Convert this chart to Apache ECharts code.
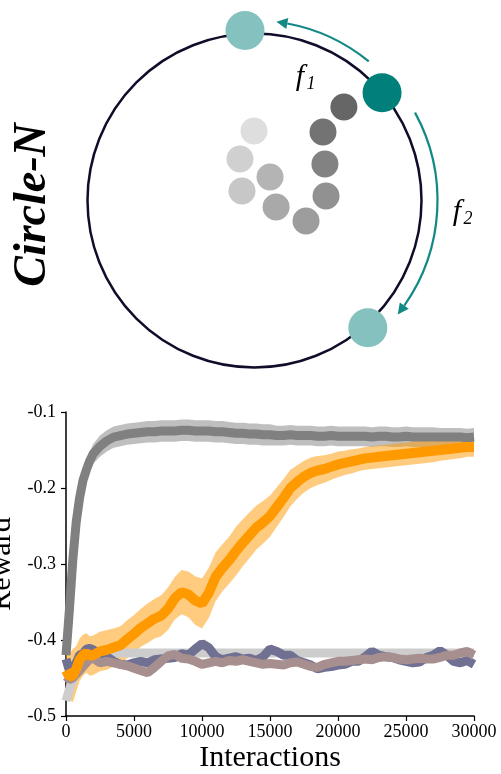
<!DOCTYPE html>
<html><head><meta charset="utf-8">
<style>html,body{margin:0;padding:0;background:#fff}#c{width:501px;height:774px}</style>
<script src="https://cdn.jsdelivr.net/npm/echarts/dist/echarts.min.js"></script>
</head><body><div id="c"></div><script>
// ---------- data ----------
const interactions = [0,250,500,750,1000,1250,1500,1750,2000,
  2500,3000,3500,4000,4500,5000,5500,6000,6500,7000,7500,8000,8500,9000,9500,
  10000,10500,11000,11500,12000,12500,13000,13500,14000,14500,15000,15500,16000,16500,17000,17500,
  18000,18500,19000,19500,20000,20500,21000,21500,22000,22500,23000,23500,24000,24500,25000,25500,
  26000,26500,27000,27500,28000,28500,29000,29500,30000];
const grayMean = [-0.42,-0.36,-0.295,-0.245,-0.213,-0.19,-0.176,-0.164,-0.155,
  -0.145,-0.138,-0.133,-0.131,-0.129,
  -0.128,-0.127,-0.126,-0.126,-0.125,
  -0.125,-0.125,-0.124,-0.124,-0.125,
  -0.125,-0.125,-0.126,-0.126,-0.127,
  -0.128,-0.128,-0.129,-0.129,-0.130,
  -0.130,-0.131,-0.131,-0.130,-0.131,
  -0.131,-0.131,-0.132,-0.132,-0.131,
  -0.132,-0.132,-0.132,-0.132,-0.132,
  -0.133,-0.132,-0.132,-0.133,-0.133,
  -0.132,-0.133,-0.133,-0.133,-0.133,
  -0.133,-0.133,-0.133,-0.133,-0.134,
  -0.133];
const grayStd = [0.008,0.01,0.01,0.01,0.01,0.011,0.012,0.012,0.013,
  0.014,0.014,0.014,0.014,0.014,
  0.014,0.014,0.014,0.014,0.014,
  0.014,0.014,0.014,0.014,0.014,
  0.014,0.014,0.014,0.014,0.014,
  0.014,0.014,0.014,0.014,0.014,
  0.014,0.013,0.013,0.013,0.013,
  0.013,0.013,0.013,0.013,0.013,
  0.013,0.013,0.013,0.013,0.013,
  0.013,0.013,0.013,0.013,0.013,
  0.013,0.013,0.013,0.013,0.013,
  0.012,0.012,0.012,0.012,0.012,
  0.012];
const orangeMean = [-0.44,-0.448,-0.447,-0.438,-0.426,-0.42,-0.417,-0.421,-0.42,
  -0.415,-0.413,-0.41,-0.407,-0.399,
  -0.392,-0.384,-0.378,-0.372,-0.368,
  -0.359,-0.345,-0.337,-0.34,-0.348,
  -0.352,-0.338,-0.317,-0.305,-0.295,
  -0.283,-0.272,-0.262,-0.252,-0.245,
  -0.237,-0.225,-0.213,-0.2,-0.192,
  -0.185,-0.18,-0.177,-0.175,-0.172,
  -0.169,-0.167,-0.165,-0.163,-0.161,
  -0.16,-0.159,-0.158,-0.157,-0.156,
  -0.155,-0.154,-0.153,-0.152,-0.151,
  -0.15,-0.149,-0.148,-0.147,-0.146,
  -0.146];
const orangeStd = [0.02,0.03,0.035,0.03,0.028,0.027,0.026,0.026,0.026,
  0.026,0.026,0.025,0.025,0.025,
  0.025,0.025,0.026,0.026,0.027,
  0.028,0.028,0.029,0.03,0.032,
  0.033,0.033,0.032,0.031,0.031,
  0.032,0.031,0.03,0.029,0.028,
  0.027,0.026,0.025,0.024,0.022,
  0.021,0.02,0.019,0.018,0.017,
  0.017,0.016,0.016,0.015,0.015,
  0.015,0.015,0.015,0.015,0.015,
  0.015,0.015,0.015,0.015,0.015,
  0.014,0.014,0.014,0.014,0.013,
  0.013];
const lightGrayMean = [-0.48,-0.465,-0.452,-0.443,-0.436,-0.43,-0.425,-0.421,-0.419,
  -0.418,-0.418,-0.417,-0.417,-0.417,
  -0.417,-0.417,-0.417,-0.417,-0.417,
  -0.417,-0.417,-0.417,-0.417,-0.417,
  -0.417,-0.417,-0.417,-0.417,-0.417,
  -0.417,-0.417,-0.417,-0.417,-0.417,
  -0.417,-0.417,-0.417,-0.417,-0.417,
  -0.417,-0.417,-0.417,-0.417,-0.417,
  -0.417,-0.417,-0.417,-0.417,-0.417,
  -0.417,-0.417,-0.417,-0.417,-0.417,
  -0.417,-0.417,-0.417,-0.417,-0.417,
  -0.417,-0.417,-0.417,-0.417,-0.417,
  -0.417];
const slateMean = [-0.425,-0.44,-0.445,-0.43,-0.42,-0.418,-0.412,-0.411,-0.413,
  -0.418,-0.422,-0.428,-0.432,-0.433,
  -0.43,-0.428,-0.43,-0.426,-0.425,
  -0.424,-0.423,-0.418,-0.42,-0.412,
  -0.405,-0.41,-0.422,-0.426,-0.424,
  -0.422,-0.425,-0.424,-0.427,-0.422,
  -0.412,-0.415,-0.42,-0.42,-0.427,
  -0.43,-0.433,-0.438,-0.436,-0.435,
  -0.433,-0.432,-0.428,-0.428,-0.422,
  -0.415,-0.42,-0.422,-0.423,-0.426,
  -0.428,-0.43,-0.429,-0.423,-0.42,
  -0.414,-0.42,-0.428,-0.43,-0.427,
  -0.432];
const mauveMean = [-0.448,-0.452,-0.45,-0.445,-0.44,-0.435,-0.43,-0.425,-0.424,
  -0.43,-0.428,-0.43,-0.432,-0.434,
  -0.437,-0.44,-0.443,-0.436,-0.428,
  -0.421,-0.419,-0.424,-0.425,-0.428,
  -0.432,-0.43,-0.428,-0.43,-0.427,
  -0.428,-0.426,-0.428,-0.43,-0.432,
  -0.431,-0.432,-0.433,-0.43,-0.429,
  -0.432,-0.435,-0.436,-0.432,-0.43,
  -0.428,-0.428,-0.427,-0.426,-0.425,
  -0.426,-0.423,-0.422,-0.423,-0.425,
  -0.426,-0.425,-0.424,-0.425,-0.425,
  -0.423,-0.42,-0.42,-0.417,-0.415,
  -0.42];
const yTickLabels = ['-0.5','-0.4','-0.3','-0.2','-0.1'];
const xTickLabels = ['0','5000','10000','15000','20000','25000','30000'];

// diagram: [radius as fraction of circle radius, angle in degrees (counter-clockwise from east)]
const agentRadius = [0.416,0.263,0.094,0.169,0.135,0.332,0.429,0.475,0.58,0.775];
const agentAngle  = [90.4,109.3,142.8,56.6,343.2,338.3,3.6,27.4,45,46.3];
const agentShade  = ['#dedede','#d0d0d0','#c7c7c7','#b4b4b4','#a9a9a9','#9d9d9d','#919191','#828282','#737373','#666666'];
const targetRadius = [1.02,1.0,1.02];
const targetAngle  = [93.2,40.2,311.7];
const targetShade  = ['#85c1bf','#007f7b','#85c1bf'];

// ---------- chart ----------
const chart = echarts.init(document.getElementById('c'), null, {renderer:'canvas'});
const serif = 'Liberation Serif';
const circleCenter = [254.5, 200.5];
const circleR = 167;
const outerFrac = 1.05;
const teal = '#138985';
const ringColor = '#0f0d2a';

function lineSeries(values, color, width) {
  return {type:'line', xAxisIndex:0, yAxisIndex:0, data: interactions.map((x,i)=>[x, values[i]]),
    symbol:'none', showSymbol:false, lineStyle:{color, width}, itemStyle:{color}, silent:true, clip:true};
}
function bandSeries(mean, std, color) {
  return {type:'custom', xAxisIndex:0, yAxisIndex:0, silent:true, clip:true,
    data: interactions.map((x,i)=>[x, mean[i]-std[i], mean[i]+std[i]]),
    encode:{x:0, y:[1,2]},
    renderItem: function(params, api) {
      if (params.dataIndex !== 0) return null;
      const up = interactions.map((x,i)=>api.coord([x, mean[i]+std[i]]));
      const lo = interactions.map((x,i)=>api.coord([x, mean[i]-std[i]])).reverse();
      return {type:'polygon', shape:{points: up.concat(lo)}, style:{fill:color}};
    }};
}
function arcArrow(R, a0, a1, color) {
  const rad = d => d*Math.PI/180;
  const headLen = 11, headW = 5.5;
  const dir = Math.sign(a1 - a0);
  const aBase = a1 - dir*headLen/R*180/Math.PI;
  const P = a => [circleCenter[0]+R*Math.cos(rad(a)), circleCenter[1]+R*Math.sin(rad(a))];
  const tip = P(a1), base = P(aBase);
  const ux = Math.cos(rad(aBase)), uy = Math.sin(rad(aBase));
  const lo = Math.min(a0, aBase), hi = Math.max(a0, aBase);
  return [
    {type:'arc', shape:{cx:circleCenter[0], cy:circleCenter[1], r:R, startAngle:rad(lo), endAngle:rad(hi), clockwise:true},
      style:{stroke:color, lineWidth:2.2, fill:'none'}},
    {type:'polygon', shape:{points:[tip,[base[0]+ux*headW, base[1]+uy*headW],[base[0]-ux*headW, base[1]-uy*headW]]},
      style:{fill:color}}
  ];
}

const option = {
  animation:false,
  backgroundColor:'#ffffff',
  grid:{left:66, top:412, width:408, height:304.7, containLabel:false},
  xAxis:{type:'value', min:0, max:30000, interval:5000,
    axisLine:{lineStyle:{color:'#000', width:1.5}},
    axisTick:{show:true, length:5, lineStyle:{color:'#000', width:1.2}},
    axisLabel:{color:'#000', fontFamily:serif, fontSize:18, margin:7,
      formatter:(v)=>xTickLabels[Math.round(v/5000)]},
    splitLine:{show:false},
    name:'Interactions', nameLocation:'middle', nameGap:27,
    nameTextStyle:{fontFamily:serif, fontSize:30, color:'#000'}},
  yAxis:{type:'value', min:-0.5, max:-0.1, interval:0.1,
    axisLine:{show:true, lineStyle:{color:'#000', width:1.5}},
    axisTick:{show:true, length:5, lineStyle:{color:'#000', width:1.2}},
    axisLabel:{color:'#000', fontFamily:serif, fontSize:18, margin:10,
      formatter:(v)=>yTickLabels[Math.round((v+0.5)*10)]},
    splitLine:{show:false}},
  polar:{center:circleCenter, radius:circleR*outerFrac},
  angleAxis:{type:'value', min:0, max:360, startAngle:0, clockwise:false,
    axisLine:{show:false}, axisTick:{show:false}, axisLabel:{show:false}, splitLine:{show:false}},
  radiusAxis:{type:'value', min:0, max:outerFrac, interval:1,
    axisLine:{show:false}, axisTick:{show:false}, axisLabel:{show:false},
    splitLine:{show:true, lineStyle:{color:['rgba(0,0,0,0)', ringColor, 'rgba(0,0,0,0)'], width:2.5}}},
  series:[
    lineSeries(lightGrayMean, '#cdcdcd', 9),
    bandSeries(grayMean, grayStd, 'rgba(128,128,128,0.5)'),
    bandSeries(orangeMean, orangeStd, 'rgba(255,153,0,0.5)'),
    lineSeries(slateMean, '#6f7092', 9),
    lineSeries(mauveMean, '#a88f8f', 9),
    lineSeries(grayMean, '#808080', 9),
    lineSeries(orangeMean, '#ff9900', 10),
    {type:'scatter', coordinateSystem:'polar', symbol:'circle', symbolSize:27, silent:true,
      data: agentRadius.map((r,i)=>({value:[r, agentAngle[i]], itemStyle:{color:agentShade[i], opacity:1}}))},
    {type:'scatter', coordinateSystem:'polar', symbol:'circle', symbolSize:39, silent:true,
      data: targetRadius.map((r,i)=>({value:[r, targetAngle[i]], itemStyle:{color:targetShade[i], opacity:1}}))}
  ],
  graphic:[
    ...arcArrow(180, -50.6, -83, teal),
    ...arcArrow(183, -28.7, 38.5, teal),
    {type:'text', x:300, y:77, style:{text:'f', font:'italic 30px "Liberation Serif"', fill:'#000', align:'center', verticalAlign:'middle'}},
    {type:'text', x:311, y:84, style:{text:'1', font:'italic 18px "Liberation Serif"', fill:'#000', align:'center', verticalAlign:'middle'}},
    {type:'text', x:457, y:212, style:{text:'f', font:'italic 30px "Liberation Serif"', fill:'#000', align:'center', verticalAlign:'middle'}},
    {type:'text', x:468, y:219, style:{text:'2', font:'italic 18px "Liberation Serif"', fill:'#000', align:'center', verticalAlign:'middle'}},
    {type:'text', x:33, y:205, rotation:Math.PI/2, style:{text:'Circle-N', font:'italic bold 46px "Liberation Serif"', fill:'#000', align:'center', verticalAlign:'middle'}},
    {type:'text', x:17, y:564, rotation:Math.PI/2, style:{text:'Reward', font:'30px "Liberation Serif"', fill:'#000', align:'center', verticalAlign:'bottom'}}
  ]
};
chart.setOption(option);
</script></body></html>
